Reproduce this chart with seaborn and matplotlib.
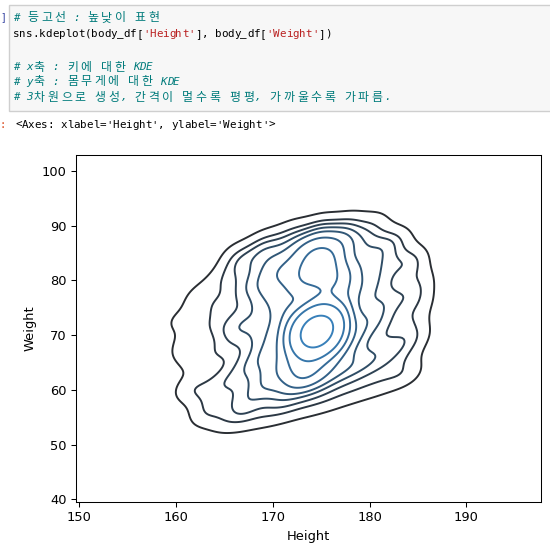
import matplotlib
matplotlib.use("Agg")
import matplotlib.pyplot as plt
import seaborn as sns
from matplotlib.patches import Rectangle

heights = [
    160.4, 159.8,
    162.3, 161.7, 162.5, 161.9,
    163.7, 164.4, 163.9, 164.6, 163.6, 164.2,
    166.3, 165.7, 166.6, 165.9, 166.2, 165.6, 166.5, 166.0,
    167.7, 168.4, 167.9, 168.6, 168.1, 167.6, 168.3, 168.0, 168.5, 167.8,
    170.2, 169.6, 170.5, 169.9, 170.3, 169.7, 170.6, 170.1, 169.8, 170.4, 170.0, 169.7,
    171.8, 172.4, 171.6, 172.2, 172.7, 171.9, 172.3, 171.7, 172.5, 172.0, 171.6, 172.3, 172.1,
    173.8, 174.3, 173.6, 174.6, 174.0, 174.5, 173.9, 174.4, 174.8, 173.7, 174.2, 174.6, 173.9, 174.3,
    175.7, 176.3, 175.9, 176.5, 175.6, 176.2, 176.7, 175.8, 176.4, 176.0, 175.7, 176.3, 176.1,
    177.8, 178.4, 177.6, 178.2, 178.6, 177.9, 178.3, 177.7, 178.5, 178.0, 177.8,
    179.8, 180.4, 179.7, 180.3, 180.6, 179.9, 180.2, 180.5, 179.8,
    181.8, 182.4, 181.9, 182.3, 181.7, 182.2, 181.9,
    183.8, 184.3, 183.9, 184.2,
    185.5, 185.2, 185.6,
    # lower edge
    160.8, 162.5, 164.8, 167.0, 169.3, 171.5, 173.8, 176.0, 178.3, 180.6, 182.8, 184.5,
    # upper edge
    166.0, 169.0, 172.0, 175.0, 178.0, 180.8, 183.2, 184.8,
    # centre band
    173.4, 175.3, 174.3, 176.2, 173.1, 173.6,
    # dense middle
    174.6, 174.4, 174.8, 174.5, 174.9, 174.3, 174.7, 174.4, 175.0, 174.2,
    174.8, 174.5, 174.6, 174.7, 174.3, 174.9, 174.6, 174.4, 174.5, 174.7,
    174.6, 174.4, 174.8, 174.5, 174.7, 174.3, 174.6, 174.9, 174.2, 174.5,
]
weights = [
    67.5, 72.5,
    59.9, 65.6, 71.4, 77.1,
    57.3, 61.8, 66.2, 70.8, 75.2, 79.8,
    57.3, 60.8, 64.4, 67.9, 71.5, 75.1, 78.7, 82.2,
    58.0, 60.9, 63.8, 66.7, 69.6, 72.5, 75.4, 78.3, 81.2, 84.1,
    58.7, 61.2, 63.7, 66.1, 68.6, 71.0, 73.5, 76.0, 78.4, 80.9, 83.3, 85.8,
    59.6, 61.9, 64.2, 66.5, 68.7, 71.0, 73.3, 75.5, 77.8, 80.1, 82.3, 84.6, 86.9,
    60.6, 62.7, 64.8, 66.9, 69.0, 71.1, 73.2, 75.3, 77.4, 79.5, 81.7, 83.8, 85.9, 88.0,
    61.6, 63.8, 66.1, 68.3, 70.5, 72.8, 75.0, 77.2, 79.4, 81.7, 83.9, 86.1, 88.4,
    62.8, 65.3, 67.9, 70.4, 73.0, 75.5, 78.1, 80.6, 83.2, 85.7, 88.2,
    64.0, 67.0, 70.0, 73.0, 76.0, 79.0, 82.0, 85.0, 88.0,
    65.3, 68.9, 72.4, 76.0, 79.6, 83.1, 86.7,
    67.5, 72.5, 77.5, 82.5,
    76.0, 70.0, 80.0,
    # lower edge
    60.0, 55.0, 53.8, 54.3, 55.0, 56.0, 57.0, 58.0, 59.3, 60.5, 62.0, 63.5,
    # upper edge
    85.0, 87.5, 89.5, 90.5, 91.0, 91.0, 88.0, 84.5,
    # centre band
    80.8, 82.6, 84.4, 80.2, 63.0, 65.2,
    # dense middle
    70.7, 70.2, 71.2, 69.6, 70.4, 71.5, 72.0, 69.1, 71.0, 70.6,
    69.9, 72.4, 68.8, 71.7, 70.0, 72.6, 69.3, 71.9, 70.9, 70.3,
    70.5, 71.3, 69.8, 72.2, 70.1, 70.8, 69.5, 71.6, 70.4, 71.0,
]

# --- Notebook cell text ---
comment_lines = [
    "# 등고선 : 높낮이 표현",
    "# x축 : 키에 대한 KDE",
    "# y축 : 몸무게에 대한 KDE",
    "# 3차원으로 생성, 간격이 멀수록 평평, 가까울수록 가파름.",
]
code_parts = [
    ("sns.kdeplot(body_df[", "black"),
    ("'Height'", "#ba2121"),
    ("], body_df[", "black"),
    ("'Weight'", "#ba2121"),
    ("])", "black"),
]
out_text = "<Axes: xlabel='Height', ylabel='Weight'>"

W, H = 550, 547
fig = plt.figure(figsize=(W / 100, H / 100), dpi=100)

def fx(px):
    return px / W

def fy(py):
    return 1 - py / H

code_size = 7.8
cell = 6.5      # px per latin char
wide = 13.6     # px per hangul char

def mono_text(x, y, text, color, italic=False):
    """Draw text char by char on a fixed grid like a console font."""
    for ch in text:
        if ord(ch) >= 0x1100:
            fig.text(fx(x + wide / 2), fy(y), ch, color=color, fontsize=8.6,
                     family="Noto Sans CJK KR", ha="center", va="center")
            x += wide
        else:
            if ch != " ":
                fig.text(fx(x), fy(y), ch, color=color, fontsize=code_size,
                         family="DejaVu Sans Mono", style="italic" if italic else "normal",
                         ha="left", va="center")
            x += cell
    return x

# gray input box
fig.patches.append(Rectangle((fx(9), fy(111)), fx(560) - fx(9), fy(5) - fy(111),
                             transform=fig.transFigure, facecolor="#f7f7f7",
                             edgecolor="#cfcfcf", linewidth=1.0))

# prompts at the left edge
fig.text(fx(0), fy(17), "]", color="#303f9f", fontsize=7, ha="left", va="center",
         family="DejaVu Sans Mono")
fig.text(fx(0), fy(125), ":", color="#d84315", fontsize=7.5, ha="left", va="center",
         family="DejaVu Sans Mono")

comment_color = "#007b7b"
x0 = 13
mono_text(x0, 18, comment_lines[0], comment_color, italic=True)
cx = x0
for txt, col in code_parts:
    cx = mono_text(cx, 34, txt, col)
for text, ypx in zip(comment_lines[1:], [67, 82, 97]):
    mono_text(x0, ypx, text, comment_color, italic=True)
mono_text(15, 125, out_text, "black")

# --- KDE plot ---
line_colors = sns.blend_palette(["#2a2e33", "#3a8acb"], 10)

ax = fig.add_axes([fx(76), fy(502), fx(541) - fx(76), fy(155) - fy(502)])
sns.kdeplot(x=heights, y=weights, ax=ax, bw_adjust=0.6, colors=line_colors,
            linewidths=1.4)

ax.set_xlim(149.7, 197.7)
ax.set_ylim(39.5, 102.9)
ax.set_xticks([150, 160, 170, 180, 190])
ax.set_yticks([40, 50, 60, 70, 80, 90, 100])
ax.set_xlabel("Height", fontsize=9.4)
ax.set_ylabel("Weight", fontsize=9.4)
ax.tick_params(labelsize=9.4, length=3.3, width=0.75)
for s in ax.spines.values():
    s.set_linewidth(0.75)

fig.savefig("out.png", dpi=100)
